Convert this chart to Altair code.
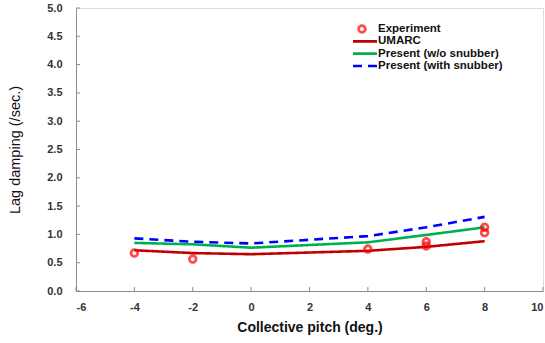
import altair as alt
import pandas as pd

# ---- data ----
pitch = [-4, -2, 0, 4, 6, 8]
umarc = [0.72, 0.67, 0.65, 0.71, 0.78, 0.88]
present_wo = [0.85, 0.825, 0.765, 0.86, 0.99, 1.125]
present_with = [0.93, 0.87, 0.84, 0.97, 1.125, 1.31]

exp_pitch = [-4, -2, 4, 6, 6, 8, 8]
exp_val = [0.67, 0.565, 0.74, 0.795, 0.87, 1.03, 1.125]

series_names = ["UMARC", "Present (w/o snubber)", "Present (with snubber)"]
series_colors = ["#C00000", "#00B050", "#0000FF"]
series_dash = [[1, 0], [1, 0], [9, 6]]
legend_names = ["Experiment"] + series_names

x_ticks = [-6, -4, -2, 0, 2, 4, 6, 8, 10]
y_ticks = [0.0, 0.5, 1.0, 1.5, 2.0, 2.5, 3.0, 3.5, 4.0, 4.5, 5.0]

W, H = 467, 283

rows = []
for name, vals in zip(series_names, [umarc, present_wo, present_with]):
    for p, v in zip(pitch, vals):
        rows.append({"pitch": p, "damping": v, "series": name})
lines_df = pd.DataFrame(rows)
exp_df = pd.DataFrame({"pitch": exp_pitch, "damping": exp_val})
xt_df = pd.DataFrame({"t": x_ticks})
yt_df = pd.DataFrame({"t": y_ticks})
leg_df = pd.DataFrame({"series": legend_names})

xscale = alt.Scale(domain=[-6, 10], nice=False, zero=False)
yscale = alt.Scale(domain=[0, 5], nice=False)

lab = dict(labelFont="Liberation Sans", labelFontWeight="bold", labelFontSize=11,
           labelColor="#333333", titleFont="Liberation Sans", titleColor="#111111",
           grid=False, ticks=False, domainColor="#8c8c8c", domainWidth=1,
           labelOverlap=False)

xaxis = alt.Axis(values=x_ticks, labelExpr="'' + datum.value", title="Collective pitch (deg.)",
                 titleFontSize=14, titleFontWeight="bold", labelPadding=10,
                 titlePadding=8, **lab)
yaxis = alt.Axis(values=y_ticks, labelExpr="format(datum.value, '.1f')", title="Lag damping (/sec.)",
                 titleFontSize=14.5, titleFontWeight="normal", labelPadding=14,
                 titlePadding=24, tickCount=11, **lab)

X = lambda f: alt.X(f, scale=xscale, axis=xaxis, title="Collective pitch (deg.)")
Y = lambda f: alt.Y(f, scale=yscale, axis=yaxis, title="Lag damping (/sec.)")

lines = alt.Chart(lines_df).mark_line(strokeWidth=2.6).encode(
    x=X("pitch:Q"),
    y=Y("damping:Q"),
    color=alt.Color("series:N", scale=alt.Scale(domain=series_names, range=series_colors), legend=None),
    strokeDash=alt.StrokeDash("series:N", scale=alt.Scale(domain=series_names, range=series_dash), legend=None),
)

points = alt.Chart(exp_df).mark_point(shape="circle", filled=False, color="#FF0000",
                                      strokeWidth=2.8, size=45).encode(
    x=X("pitch:Q"),
    y=Y("damping:Q"),
)

xticks = alt.Chart(xt_df).mark_rule(color="#8c8c8c").encode(
    x=X("t:Q"), y=alt.value(H), y2=alt.value(H - 4))
yticks = alt.Chart(yt_df).mark_rule(color="#8c8c8c").encode(
    y=Y("t:Q"), x=alt.value(0), x2=alt.value(4))

main = alt.layer(xticks, yticks, lines, points)

ly = alt.Y("series:N", scale=alt.Scale(type="point", domain=legend_names, range=[21, 58], padding=0), axis=None)
leg_lines = alt.Chart(leg_df).transform_filter(alt.datum.series != "Experiment").mark_rule(strokeWidth=2.6).encode(
    y=ly, x=alt.value(277), x2=alt.value(301),
    color=alt.Color("series:N", scale=alt.Scale(domain=series_names, range=series_colors), legend=None),
    strokeDash=alt.StrokeDash("series:N", scale=alt.Scale(domain=series_names, range=series_dash), legend=None),
)
leg_pt = alt.Chart(leg_df).transform_filter(alt.datum.series == "Experiment").mark_point(
    shape="circle", filled=False, color="#FF0000", strokeWidth=2.8, size=45).encode(
    y=ly, x=alt.value(286))
leg_txt = alt.Chart(leg_df).mark_text(align="left", baseline="middle", font="Liberation Sans",
                                      fontWeight="bold", fontSize=11.5, color="#111111").encode(
    y=ly, x=alt.value(302), text="series:N")
legend = alt.layer(leg_lines, leg_pt, leg_txt)

chart = alt.layer(main, legend).resolve_scale(y="independent", color="independent", strokeDash="independent").properties(
    width=W, height=H,
    autosize=alt.AutoSizeParams(type="none"),
    padding={"left": 76, "top": 8, "right": 2, "bottom": 52},
).configure_view(stroke="#8c8c8c", strokeWidth=1).configure(background="white")

chart.save("out.html", embed_options={"renderer": "svg", "actions": False})
